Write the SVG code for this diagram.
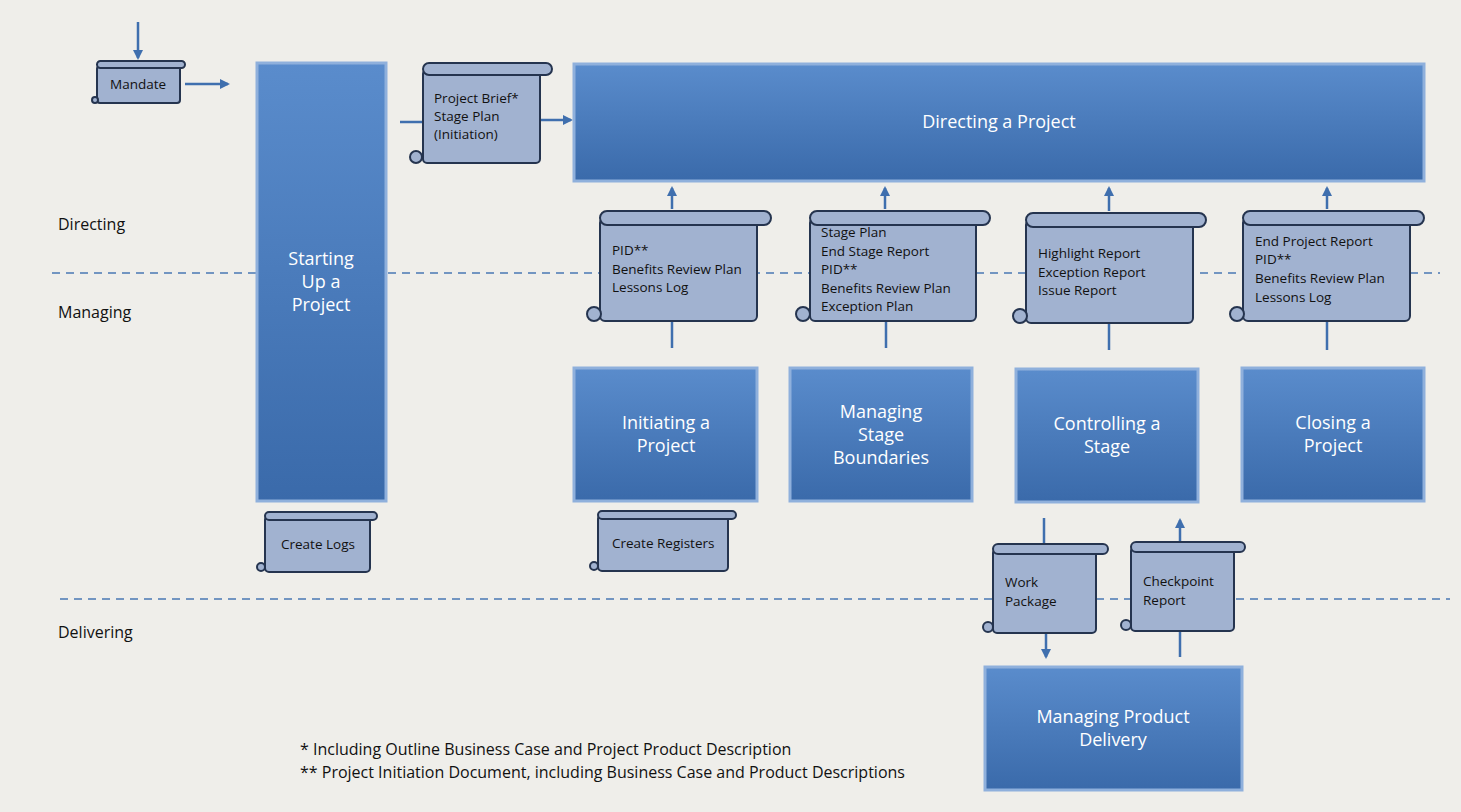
<svg xmlns="http://www.w3.org/2000/svg" width="1461" height="812" viewBox="0 0 1461 812">
<defs>
<linearGradient id="bg" x1="0" y1="0" x2="0" y2="1"><stop offset="0" stop-color="#5a8ccc"/><stop offset="1" stop-color="#3a6aaa"/></linearGradient>
<marker id="ah" viewBox="0 0 10 10" refX="8" refY="5" markerWidth="4" markerHeight="4" orient="auto"><path d="M0,0 L10,5 L0,10 z" fill="#3f6fae"/></marker>
<style>
.box{fill:url(#bg);stroke:#8fb0dc;stroke-width:3}
.bt{font-family:"Open Sans","Liberation Sans",sans-serif;font-size:18px;fill:#fff;text-anchor:middle}
.sc{fill:#a1b2d0;stroke:#25344f;stroke-width:2}
.st{font-family:"Open Sans","Liberation Sans",sans-serif;font-size:13.5px;fill:#111}
.lb{font-family:"Open Sans","Liberation Sans",sans-serif;font-size:16px;fill:#111}
.ft{font-family:"Open Sans","Liberation Sans",sans-serif;font-size:16px;fill:#111}
.ln{stroke:#3f6fae;stroke-width:2.5;fill:none}
.ar{stroke:#3f6fae;stroke-width:2.5;fill:none;marker-end:url(#ah)}
.ds{stroke:#4a78b4;stroke-width:1.5;stroke-dasharray:8,6}
</style>
</defs>
<rect width="1461" height="812" fill="#efeeea"/>
<line class="ds" x1="52" y1="273" x2="1440" y2="273"/>
<line class="ds" x1="60" y1="599" x2="1450" y2="599"/>
<text class="lb" x="58" y="230">Directing</text>
<text class="lb" x="58" y="318">Managing</text>
<text class="lb" x="58" y="638">Delivering</text>
<g id="connectors">
<line class="ar" x1="138" y1="22" x2="138" y2="58"/>
<line class="ar" x1="185" y1="84" x2="228" y2="84"/>
<line class="ln" x1="400" y1="122" x2="423" y2="122"/>
<line class="ar" x1="540" y1="120" x2="571" y2="120"/>
<line class="ar" x1="672" y1="209" x2="672" y2="188"/>
<line class="ar" x1="885" y1="209" x2="885" y2="188"/>
<line class="ar" x1="1109" y1="211" x2="1109" y2="188"/>
<line class="ar" x1="1327" y1="209" x2="1327" y2="188"/>
<line class="ln" x1="672" y1="321" x2="672" y2="348"/>
<line class="ln" x1="886" y1="321" x2="886" y2="348"/>
<line class="ln" x1="1109" y1="323" x2="1109" y2="350"/>
<line class="ln" x1="1327" y1="321" x2="1327" y2="350"/>
<line class="ln" x1="1044" y1="518" x2="1044" y2="544"/>
<line class="ar" x1="1046" y1="633" x2="1046" y2="657"/>
<line class="ln" x1="1180" y1="631" x2="1180" y2="657"/>
<line class="ar" x1="1180" y1="542" x2="1180" y2="520"/>
</g>
<g id="starting"><rect class="box" x="257" y="63" width="129" height="438"/><text class="bt" x="321" y="265">Starting</text><text class="bt" x="321" y="288">Up a</text><text class="bt" x="321" y="311">Project</text></g>
<g id="directing"><rect class="box" x="574" y="64" width="850" height="117"/><text class="bt" x="999" y="128">Directing a Project</text></g>
<g id="initiating"><rect class="box" x="574" y="368" width="183" height="133"/><text class="bt" x="666" y="429">Initiating a</text><text class="bt" x="666" y="452">Project</text></g>
<g id="msb"><rect class="box" x="790" y="368" width="182" height="133"/><text class="bt" x="881" y="418">Managing</text><text class="bt" x="881" y="441">Stage</text><text class="bt" x="881" y="464">Boundaries</text></g>
<g id="controlling"><rect class="box" x="1016" y="369" width="182" height="133"/><text class="bt" x="1107" y="430">Controlling a</text><text class="bt" x="1107" y="453">Stage</text></g>
<g id="closing"><rect class="box" x="1242" y="368" width="182" height="133"/><text class="bt" x="1333" y="429">Closing a</text><text class="bt" x="1333" y="452">Project</text></g>
<g id="mpd"><rect class="box" x="985" y="667" width="257" height="123"/><text class="bt" x="1113" y="723">Managing Product</text><text class="bt" x="1113" y="746">Delivery</text></g>

<g id="mandate"><rect class="sc" x="97" y="66" width="83" height="37" rx="3"/><rect class="sc" x="97" y="61" width="88" height="7" rx="3.5"/><circle class="sc" cx="95" cy="100" r="3"/><text class="st" x="110" y="89">Mandate</text></g>
<g id="brief"><rect class="sc" x="423" y="70" width="117" height="93" rx="4"/><rect class="sc" x="423" y="63" width="129" height="12" rx="6"/><circle class="sc" cx="416" cy="157" r="6"/><text class="st" x="434" y="103">Project Brief*</text><text class="st" x="434" y="121">Stage Plan</text><text class="st" x="434" y="139">(Initiation)</text></g>
<g id="s1"><rect class="sc" x="600" y="218" width="157" height="103" rx="5"/><rect class="sc" x="600" y="211" width="171" height="14" rx="7"/><circle class="sc" cx="594" cy="314" r="7"/><text class="st" x="612" y="255">PID**</text><text class="st" x="612" y="274">Benefits Review Plan</text><text class="st" x="612" y="292">Lessons Log</text></g>
<g id="s2"><rect class="sc" x="810" y="218" width="166" height="103" rx="5"/><rect class="sc" x="810" y="211" width="180" height="14" rx="7"/><circle class="sc" cx="803" cy="314" r="7"/><text class="st" x="821" y="237">Stage Plan</text><text class="st" x="821" y="256">End Stage Report</text><text class="st" x="821" y="274">PID**</text><text class="st" x="821" y="293">Benefits Review Plan</text><text class="st" x="821" y="311">Exception Plan</text></g>
<g id="s3"><rect class="sc" x="1026" y="220" width="167" height="103" rx="5"/><rect class="sc" x="1026" y="213" width="180" height="14" rx="7"/><circle class="sc" cx="1020" cy="316" r="7"/><text class="st" x="1038" y="258">Highlight Report</text><text class="st" x="1038" y="277">Exception Report</text><text class="st" x="1038" y="295">Issue Report</text></g>
<g id="s4"><rect class="sc" x="1243" y="218" width="167" height="103" rx="5"/><rect class="sc" x="1243" y="211" width="181" height="14" rx="7"/><circle class="sc" cx="1237" cy="314" r="7"/><text class="st" x="1255" y="246">End Project Report</text><text class="st" x="1255" y="264">PID**</text><text class="st" x="1255" y="283">Benefits Review Plan</text><text class="st" x="1255" y="302">Lessons Log</text></g>
<g id="logs"><rect class="sc" x="265" y="516" width="105" height="56" rx="4"/><rect class="sc" x="265" y="512" width="112" height="8" rx="4"/><circle class="sc" cx="261" cy="567" r="4"/><text class="st" x="281" y="549">Create Logs</text></g>
<g id="registers"><rect class="sc" x="598" y="515" width="130" height="56" rx="4"/><rect class="sc" x="598" y="511" width="138" height="8" rx="4"/><circle class="sc" cx="594" cy="566" r="4"/><text class="st" x="612" y="548">Create Registers</text></g>
<g id="wp"><rect class="sc" x="993" y="549" width="103" height="84" rx="4"/><rect class="sc" x="993" y="544" width="115" height="10" rx="5"/><circle class="sc" cx="988" cy="627" r="5"/><text class="st" x="1005" y="587">Work</text><text class="st" x="1005" y="606">Package</text></g>
<g id="cp"><rect class="sc" x="1131" y="547" width="103" height="84" rx="4"/><rect class="sc" x="1131" y="542" width="114" height="10" rx="5"/><circle class="sc" cx="1126" cy="625" r="5"/><text class="st" x="1143" y="586">Checkpoint</text><text class="st" x="1143" y="605">Report</text></g>
<text class="ft" x="300" y="755">* Including Outline Business Case and Project Product Description</text>
<text class="ft" x="300" y="778">** Project Initiation Document, including Business Case and Product Descriptions</text>
</svg>
